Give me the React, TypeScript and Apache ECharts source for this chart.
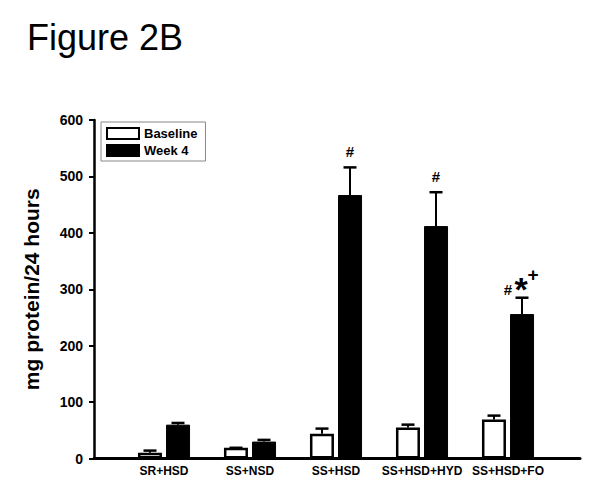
import React, { useEffect, useRef } from "react";
import * as echarts from "echarts";

const categories = ["SR+HSD", "SS+NSD", "SS+HSD", "SS+HSD+HYD", "SS+HSD+FO"];
const baselineValues = [10, 19, 44, 55, 69];
const baselineErrTop = [14, 19, 53, 60, 76];
const week4Values = [60, 30, 467, 412, 256];
const week4ErrTop = [63, 33, 516, 472, 285];
const hashMarks = ["", "", "#", "#", "#"];
const starMarks = ["", "", "", "", "*"];
const plusMarks = ["", "", "", "", "+"];
const yTicks = [0, 100, 200, 300, 400, 500, 600];

const FONT = "Liberation Sans, Arial, sans-serif";

function errorSeries(values: number[], tops: number[], offset: number, withMarks: boolean) {
  return {
    type: "custom",
    xAxisIndex: 1,
    yAxisIndex: 1,
    silent: true,
    z: 5,
    data: values.map((v, i) => [i, v, tops[i]]),
    renderItem: (params: any, api: any) => {
      const i = api.value(0);
      const base = api.coord([i, api.value(1)]);
      const top = api.coord([i, api.value(2)]);
      const x = base[0] + offset;
      const children: any[] = [];
      if (top[1] < base[1] - 0.5) {
        children.push({
          type: "line",
          shape: { x1: x, y1: base[1], x2: x, y2: top[1] },
          style: { stroke: "#000", lineWidth: 2 },
        });
      }
      children.push({
        type: "line",
        shape: { x1: x - 6.5, y1: top[1], x2: x + 6.5, y2: top[1] },
        style: { stroke: "#000", lineWidth: 2.5 },
      });
      if (withMarks) {
        const idx = params.dataIndex;
        const hasStar = starMarks[idx] !== "";
        if (hashMarks[idx]) {
          children.push({
            type: "text",
            style: {
              text: hashMarks[idx],
              x: hasStar ? x - 14 : x,
              y: hasStar ? top[1] - 1 : top[1] - 8,
              align: "center",
              verticalAlign: "bottom",
              font: `bold 15px ${FONT}`,
              fill: "#000",
            },
          });
        }
        if (starMarks[idx]) {
          children.push({
            type: "text",
            style: {
              text: starMarks[idx],
              x: x - 1,
              y: top[1] + 8,
              align: "center",
              verticalAlign: "bottom",
              font: `bold 34px ${FONT}`,
              fill: "#000",
            },
          });
        }
        if (plusMarks[idx]) {
          children.push({
            type: "text",
            style: {
              text: plusMarks[idx],
              x: x + 11,
              y: top[1] - 14,
              align: "center",
              verticalAlign: "bottom",
              font: `bold 19px ${FONT}`,
              fill: "#000",
            },
          });
        }
      }
      return { type: "group", children };
    },
  };
}

export default function App() {
  const ref = useRef<HTMLDivElement>(null);
  useEffect(() => {
    if (!ref.current) return;
    const chart = echarts.init(ref.current, null, { renderer: "svg" });
    const option: any = {
      animation: false,
      backgroundColor: "#fff",
      title: {
        text: "Figure 2B",
        left: 22,
        top: 14,
        textStyle: { fontSize: 36, fontWeight: "normal", fontFamily: FONT, color: "#000" },
      },
      legend: {
        data: ["Baseline", "Week 4"],
        orient: "vertical",
        left: 101,
        top: 122,
        itemWidth: 32,
        itemHeight: 11,
        itemGap: 4,
        padding: [5, 8, 4, 5],
        borderColor: "#888",
        borderWidth: 1,
        icon: "rect",
        textStyle: { fontSize: 13, fontWeight: "bold", fontFamily: FONT, color: "#000" },
      },
      grid: [
        { left: 94, right: 20, top: 120, bottom: 34.5 },
        { left: 121, width: 430, top: 120, bottom: 34.5 },
      ],
      xAxis: [
        {
          type: "value",
          gridIndex: 0,
          min: 0,
          max: 1,
          axisLine: { show: true, lineStyle: { color: "#000", width: 3 } },
          axisTick: { show: false },
          axisLabel: { show: false },
          splitLine: { show: false },
        },
        {
          type: "category",
          gridIndex: 1,
          data: categories,
          axisLine: { show: false },
          axisTick: { show: false },
          axisLabel: {
            margin: 6,
            fontSize: 12,
            fontWeight: "bold",
            fontFamily: FONT,
            color: "#000",
            interval: 0,
          },
        },
      ],
      yAxis: [
        {
          type: "value",
          gridIndex: 0,
          min: yTicks[0],
          max: yTicks[yTicks.length - 1],
          interval: 100,
          name: "mg protein/24 hours",
          nameLocation: "middle",
          nameGap: 52,
          nameTextStyle: { fontSize: 21, fontWeight: "bold", fontFamily: FONT, color: "#000" },
          axisLine: { show: true, lineStyle: { color: "#000", width: 2.5 } },
          axisTick: { show: true, length: 5, lineStyle: { color: "#000", width: 2 } },
          axisLabel: { margin: 11, fontSize: 14, fontWeight: "bold", fontFamily: FONT, color: "#000" },
          splitLine: { show: false },
        },
        {
          type: "value",
          gridIndex: 1,
          min: 0,
          max: 600,
          show: false,
          splitLine: { show: false },
        },
      ],
      series: [
        {
          name: "Baseline",
          type: "bar",
          xAxisIndex: 1,
          yAxisIndex: 1,
          data: baselineValues,
          barWidth: 24,
          barGap: "17%",
          itemStyle: { color: "#fff", borderColor: "#000", borderWidth: 2.5 },
        },
        {
          name: "Week 4",
          type: "bar",
          xAxisIndex: 1,
          yAxisIndex: 1,
          data: week4Values,
          barWidth: 24,
          itemStyle: { color: "#000", borderColor: "#000", borderWidth: 1 },
        },
        errorSeries(baselineValues, baselineErrTop, -14, false),
        errorSeries(week4Values, week4ErrTop, 14, true),
      ],
    };
    chart.setOption(option);
    return () => chart.dispose();
  }, []);
  return (
    <div
      ref={ref}
      style={{ position: "fixed", left: 0, top: 0, width: 600, height: 493, background: "#fff" }}
    />
  );
}
